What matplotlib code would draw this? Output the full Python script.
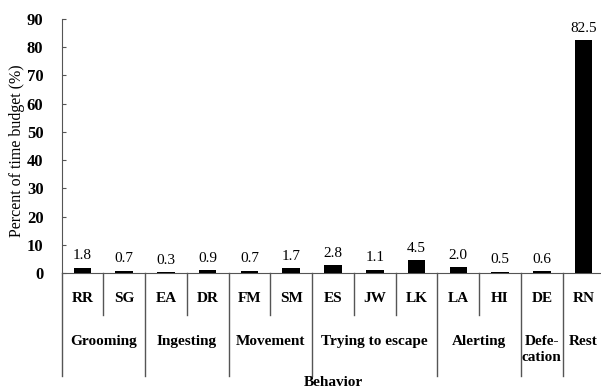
import numpy as np
import matplotlib
matplotlib.use("Agg")
import matplotlib.pyplot as plt
import matplotlib.transforms as mtransforms

codes = ["RR", "SG", "EA", "DR", "FM", "SM", "ES", "JW", "LK", "LA", "HI", "DE", "RN"]
values = [1.8, 0.7, 0.3, 0.9, 0.7, 1.7, 2.8, 1.1, 4.5, 2.0, 0.5, 0.6, 82.5]
value_labels = ["1.8", "0.7", "0.3", "0.9", "0.7", "1.7", "2.8", "1.1", "4.5", "2.0", "0.5", "0.6", "82.5"]
groups = ["Grooming", "Ingesting", "Movement", "Trying to escape", "Alerting", "Defe-\ncation", "Rest"]
group_sizes = [2, 2, 2, 3, 2, 1, 1]
yticks = [0, 10, 20, 30, 40, 50, 60, 70, 80, 90]

plt.rcParams["font.family"] = ["Liberation Serif", "DejaVu Serif"]
LINE = "#555555"

fig = plt.figure(figsize=(6.01, 3.90), dpi=100)
ax = fig.add_axes([61.5 / 601, 0.30, 543 / 601, 0.6513])

x = np.arange(len(codes))
ax.bar(x, values, width=0.42, color="black", zorder=3)
for xi, v, lab in zip(x, values, value_labels):
    ax.annotate(lab, (xi, v), xytext=(0, 4), textcoords="offset points",
                ha="center", va="bottom", fontsize=11)

ax.set_xlim(-0.5, len(codes) - 0.5)
ax.set_ylim(0, 90)
ax.set_yticks(yticks)
ax.set_yticklabels([str(t) for t in yticks], fontsize=12, fontweight="bold")
ax.tick_params(axis="y", direction="in", length=3, color=LINE, pad=13)
ax.set_xticks([])
for s in ["top", "right"]:
    ax.spines[s].set_visible(False)
ax.spines["left"].set_color(LINE)
ax.spines["bottom"].set_color(LINE)
ax.spines["left"].set_bounds(0, 90)

trans = mtransforms.blended_transform_factory(ax.transData, ax.transAxes)

# code labels
for xi, c in zip(x, codes):
    ax.text(xi, -0.1, c, transform=trans, ha="center", va="center",
            fontsize=11, fontweight="bold")

# separators
bounds = np.cumsum(group_sizes)[:-1] - 0.5
for b in np.arange(0.5, len(codes) - 0.5):
    low = -0.405 if b in bounds else -0.165
    ax.plot([b, b], [0, low], transform=trans, color=LINE, lw=1.0, clip_on=False)
# y axis extension below zero
ax.plot([-0.5, -0.5], [0, -0.405], transform=trans, color=LINE, lw=1.0, clip_on=False)

# group labels
start = 0
for g, n in zip(groups, group_sizes):
    cx = start + (n - 1) / 2
    if "\n" in g:
        ax.text(cx, -0.243, g, transform=trans, ha="center", va="top",
                fontsize=11, fontweight="bold", linespacing=1.3)
    else:
        ax.text(cx, -0.27, g, transform=trans, ha="center", va="center",
                fontsize=11, fontweight="bold")
    start += n

ax.text(0.5 * (len(codes) - 1), -0.43, "Behavior", transform=trans,
        ha="center", va="center", fontsize=11, fontweight="bold")
ax.set_ylabel("Percent of time budget (%)", fontsize=11.5)
ax.yaxis.set_label_coords(-0.068, 0.48)

fig.savefig("out.png", dpi=100)
